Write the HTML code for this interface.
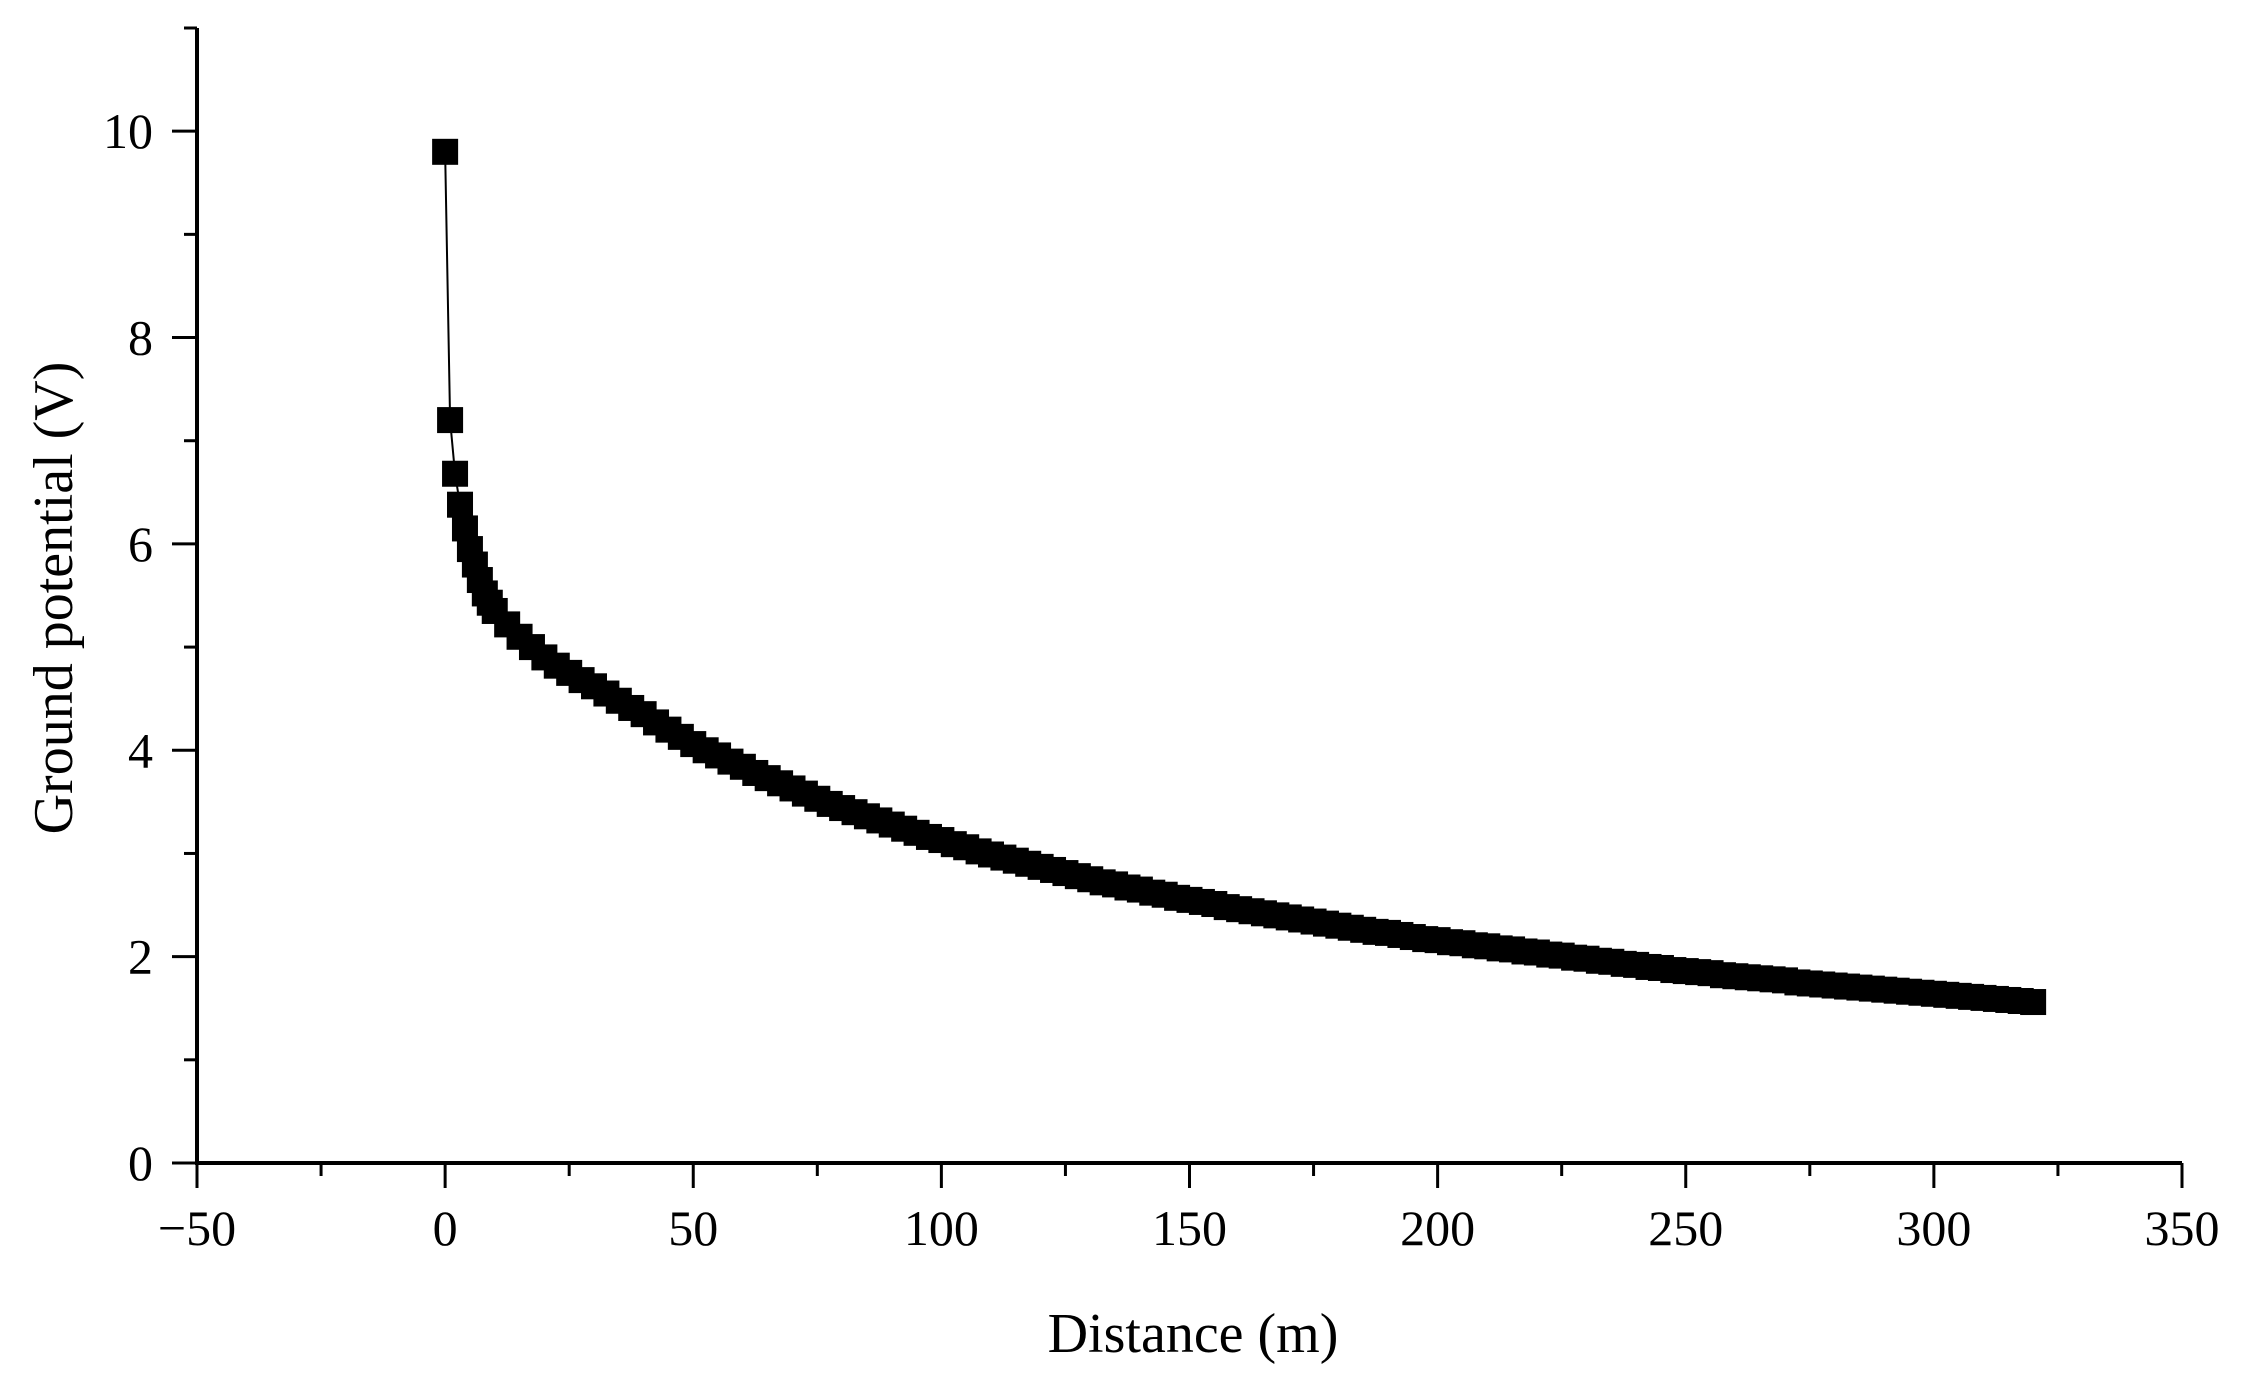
<!DOCTYPE html>
<html><head><meta charset="utf-8"><style>
html,body{margin:0;padding:0;background:#fff}
svg{display:block}
text{font-family:"Liberation Serif",serif;fill:#000}
</style></head><body>
<svg id="chart" width="2248" height="1375" viewBox="0 0 2248 1375"></svg>
<script>
const distances=[0,1,2,3,4,5,6,7,8,9,10,12.5,15,17.5,20,22.5,25,27.5,30,32.5,35,37.5,40,42.5,45,47.5,50,52.5,55,57.5,60,62.5,65,67.5,70,72.5,75,77.5,80,82.5,85,87.5,90,92.5,95,97.5,100,102.5,105,107.5,110,112.5,115,117.5,120,122.5,125,127.5,130,132.5,135,137.5,140,142.5,145,147.5,150,152.5,155,157.5,160,162.5,165,167.5,170,172.5,175,177.5,180,182.5,185,187.5,190,192.5,195,197.5,200,202.5,205,207.5,210,212.5,215,217.5,220,222.5,225,227.5,230,232.5,235,237.5,240,242.5,245,247.5,250,252.5,255,257.5,260,262.5,265,267.5,270,272.5,275,277.5,280,282.5,285,287.5,290,292.5,295,297.5,300,302.5,305,307.5,310,312.5,315,317.5,320];
const potentials=[9.8,7.2,6.68,6.38,6.15,5.95,5.8,5.65,5.52,5.43,5.35,5.22,5.1,5.0,4.9,4.82,4.75,4.68,4.62,4.55,4.48,4.41,4.35,4.27,4.2,4.13,4.06,4.0,3.95,3.89,3.84,3.78,3.73,3.68,3.63,3.58,3.53,3.48,3.44,3.4,3.36,3.32,3.28,3.24,3.2,3.16,3.13,3.09,3.06,3.02,2.99,2.96,2.93,2.9,2.87,2.84,2.81,2.78,2.75,2.72,2.70,2.67,2.65,2.62,2.60,2.57,2.55,2.53,2.51,2.48,2.46,2.44,2.42,2.4,2.38,2.36,2.34,2.32,2.30,2.28,2.26,2.24,2.23,2.21,2.19,2.17,2.16,2.14,2.13,2.11,2.10,2.08,2.07,2.05,2.04,2.02,2.01,1.99,1.98,1.96,1.95,1.93,1.92,1.9,1.89,1.87,1.86,1.85,1.84,1.82,1.81,1.8,1.79,1.78,1.77,1.75,1.74,1.73,1.72,1.71,1.70,1.69,1.68,1.67,1.66,1.65,1.64,1.63,1.62,1.61,1.60,1.59,1.58,1.57,1.56];
const xTicks=[-50,0,50,100,150,200,250,300,350];
const yTicks=[0,2,4,6,8,10];
const NS="http://www.w3.org/2000/svg";
const svg=document.getElementById('chart');
const X0=197,X1=2182,Y0=1163,YT=28;
const xs=v=>X0+(v+50)/400*(X1-X0);
const ys=v=>Y0-v/11*(Y0-YT);
function mk(tag,attrs,parent){const e=document.createElementNS(NS,tag);for(const k in attrs)e.setAttribute(k,attrs[k]);(parent||svg).appendChild(e);return e;}
const ax=mk('line',{x1:X0,y1:Y0,x2:X1,y2:Y0,stroke:'#000','stroke-width':4});


const ay=mk('line',{x1:X0,y1:Y0+2,x2:X0,y2:YT,stroke:'#000','stroke-width':4});


for(let v=-50;v<=350;v+=25){
  const major=(v%50===0);
  const t=mk('line',{x1:xs(v),y1:Y0,x2:xs(v),y2:Y0+(major?25:13),stroke:'#000','stroke-width':3});
  
  
}
xTicks.forEach(v=>{
  const t=mk('text',{x:xs(v),y:1245,'font-size':50,'text-anchor':'middle'});
  t.textContent=v<0?'\u2212'+Math.abs(v):String(v);
  
  
});
for(let v=0;v<=11;v+=1){
  const major=(v%2===0);
  const t=mk('line',{x1:X0,y1:ys(v),x2:X0-(major?25:13),y2:ys(v),stroke:'#000','stroke-width':3});
  
  
}
yTicks.forEach(v=>{
  const t=mk('text',{x:153,y:ys(v)+17,'font-size':50,'text-anchor':'end'});
  t.textContent=String(v);
  
  
});
const xt=mk('text',{x:1193,y:1352,'font-size':56,'text-anchor':'middle'});
xt.textContent='Distance (m)';


const yt=mk('text',{x:0,y:0,'font-size':56,'text-anchor':'middle',transform:'translate(72,598) rotate(-90)'});
yt.textContent='Ground potential (V)';


const pts=distances.map((d,i)=>xs(d)+','+ys(potentials[i])).join(' ');
const pl=mk('polyline',{points:pts,fill:'none',stroke:'#000','stroke-width':2});


const S=26;
distances.forEach((d,i)=>{
  const r=mk('rect',{x:xs(d)-S/2,y:ys(potentials[i])-S/2,width:S,height:S,fill:'#000'});
  
  
});
</script>
</body></html>
